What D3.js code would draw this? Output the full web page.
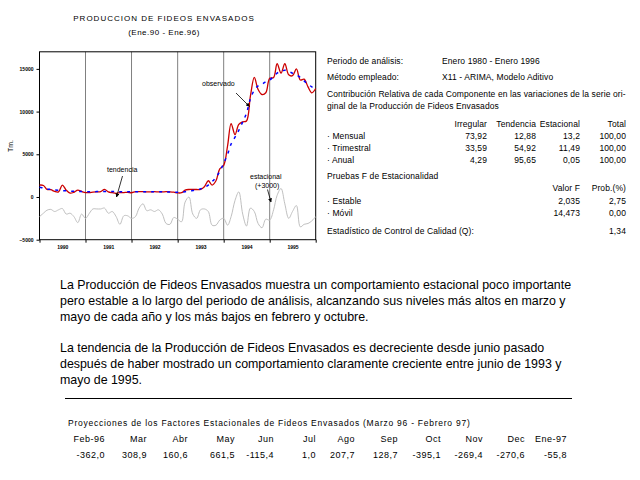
<!DOCTYPE html>
<html>
<head>
<meta charset="utf-8">
<title>Produccion de fideos envasados</title>
<script src="https://cdnjs.cloudflare.com/ajax/libs/d3/7.8.5/d3.min.js"></script>
<style>
  body { margin: 0; background: #fff; }
  svg { display: block; font-family: "Liberation Sans", Arial, sans-serif; }
  .eje text { font-size: 5px; font-weight: bold; }
  .eje path, .eje line { stroke: #000; }
  .panel { font-size: 8.5px; letter-spacing: 0.1px; }
  .parrafo { font-size: 12.4px; }
  .proy { font-size: 9px; letter-spacing: 0.5px; }
</style>
</head>
<body>
<div id="grafico"></div>
<script>
// serie mensual Ene.90 - Ene.96 (73 meses), en Tm.
var anioInicio = 1990;
var observado = [
  1400, 1350, 900, 850, 650, 600, 1400, 800, 450, 550, 800, 650,
  520, 520, 580, 600, 620, 900, 600, 500, 430, 520, 520, 550,
  500, 620, 620, 620, 600, 600, 620, 600, 600, 620, 600, 560,
  480, 500, 800, 880, 880, 880, 880, 1200, 1900, 1400, 1900, 3300,
  3700, 6000, 8600, 7300, 8500, 8800, 8900, 11800, 14000, 12600, 12000, 12200,
  13900, 14000, 15600, 14500, 15600, 14300, 14200, 15000, 13700, 13800, 12900, 12200,
  12700
];
var tendencia = [
  1150, 1050, 950, 880, 820, 780, 750, 720, 690, 660, 640, 630,
  620, 620, 620, 630, 640, 650, 650, 640, 630, 620, 610, 600,
  600, 600, 610, 620, 620, 620, 620, 610, 600, 590, 580, 570,
  550, 580, 620, 680, 750, 850, 950, 1100, 1400, 1800, 2300, 3000,
  3950, 5000, 6200, 7000, 7800, 8800, 9800, 11500, 12500, 13000, 13200, 13500,
  13700, 14100, 14500, 14700, 14850, 14700, 14500, 14300, 14000, 13600, 13200, 12900,
  12700
];
var estacional = [
  -2300, -1900, -1550, -1450, -1700, -1500, -1350, -2000, -1900, -2300, -3000, -2000,
  -2500, -1900, -1400, -1400, -1400, -1300, -1900, -1700, -2300, -3200, -2200, -2200,
  -2500, -2300, -1300, -800, -1600, -1500, -1700, -1500, -2000, -3100, -3200, -2400,
  -2600, -2900, -600, 0, -2000, -2500, -1500, -1400, -1700, -3300, -3300, -2700,
  -2500, -3300, -2300, -400, 600, -2000, -3400, -1300, -1700, -3100, -3600, -2600,
  -2700, -1500, 200, 1000, -800, -2500, -1700, -1000, -3500, -3200, -3100, -2800,
  -2300
];
var ticksY = [-5000, 0, 5000, 10000, 15000];
var anios = [1990, 1991, 1992, 1993, 1994, 1995];

// tabla de la derecha
var columnas = ["Irregular", "Tendencia", "Estacional", "Total"];
var filasContrib = ["· Mensual", "· Trimestral", "· Anual"];
var valoresContrib = [
  ["73,92", "12,88", "13,2", "100,00"],
  ["33,59", "54,92", "11,49", "100,00"],
  ["4,29", "95,65", "0,05", "100,00"]
];
var columnasF = ["Valor F", "Prob.(%)"];
var filasF = ["· Estable", "· Móvil"];
var valoresF = [["2,035", "2,75"], ["14,473", "0,00"]];

// proyecciones
var mesesProy = ["Feb-96", "Mar", "Abr", "May", "Jun", "Jul", "Ago", "Sep", "Oct", "Nov", "Dec", "Ene-97"];
var valoresProy = ["-362,0", "308,9", "160,6", "661,5", "-115,4", "1,0", "207,7", "128,7", "-395,1", "-269,4", "-270,6", "-55,8"];

var parrafo1 = [
  "La Producción de Fideos Envasados muestra un comportamiento estacional poco importante",
  "pero estable a lo largo del periodo de análisis, alcanzando sus niveles  más altos en marzo y",
  "mayo de cada año y los más bajos en febrero y octubre."
];
var parrafo2 = [
  "La tendencia de la Producción de Fideos Envasados es decreciente desde junio pasado",
  "después de haber mostrado un comportamiento claramente creciente entre junio de 1993 y",
  "mayo de 1995."
];

var fecha = function (i) { return new Date(anioInicio, i, 1); };

var svg = d3.select("#grafico").append("svg")
  .attr("width", 640).attr("height", 480);

var area = { izq: 39.5, der: 315.7, arriba: 51.8, abajo: 239.7 };

var x = d3.scaleTime()
  .domain([new Date(1990, 0, 1), new Date(1996, 0, 1)])
  .range([area.izq, area.der]);
var y = d3.scaleLinear()
  .domain([-5000, 17000])
  .range([area.abajo, area.arriba]);

// titulo
svg.append("text").attr("x", 164).attr("y", 21).attr("text-anchor", "middle")
  .style("font-size", "8px").style("letter-spacing", "1px")
  .text("PRODUCCION DE FIDEOS ENVASADOS");
svg.append("text").attr("x", 164).attr("y", 35).attr("text-anchor", "middle")
  .style("font-size", "8px").style("letter-spacing", "0.5px")
  .text("(Ene.90 - Ene.96)");

// lineas verticales de los anios
svg.append("g").selectAll("line")
  .data(anios.slice(1))
  .enter().append("line")
  .attr("x1", function (d) { return x(new Date(d, 0, 1)); })
  .attr("x2", function (d) { return x(new Date(d, 0, 1)); })
  .attr("y1", area.arriba).attr("y2", area.abajo)
  .attr("stroke", "#808080").attr("stroke-width", 1);

svg.append("rect")
  .attr("x", area.izq).attr("y", area.arriba)
  .attr("width", area.der - area.izq).attr("height", area.abajo - area.arriba)
  .attr("fill", "none").attr("stroke", "#000").attr("stroke-width", 1);

svg.append("g").attr("class", "eje")
  .attr("transform", "translate(" + area.izq + ",0)")
  .call(d3.axisLeft(y).tickValues(ticksY).tickSize(3).tickFormat(d3.format("d")))
  .call(function (g) { g.select(".domain").remove(); });

svg.append("g").attr("class", "eje")
  .attr("transform", "translate(0," + area.abajo + ")")
  .call(d3.axisBottom(x).tickValues(anios.concat([1996]).map(function (d) { return new Date(d, 0, 1); }))
    .tickSize(3).tickFormat(""))
  .call(function (g) { g.select(".domain").remove(); });

svg.append("g").attr("class", "eje")
  .attr("transform", "translate(0," + (area.abajo + 3) + ")")
  .call(d3.axisBottom(x).tickValues(anios.map(function (d) { return new Date(d, 6, 1); }))
    .tickSize(0).tickFormat(d3.timeFormat("%Y")))
  .call(function (g) { g.select(".domain").remove(); });

svg.append("text")
  .attr("transform", "translate(13,146) rotate(-90)")
  .attr("text-anchor", "middle").style("font-size", "7px")
  .text("Tm.");

var linea = function (serie) {
  return d3.line()
    .x(function (d, i) { return x(fecha(i)); })
    .y(function (d) { return y(d); })
    .curve(d3.curveCatmullRom.alpha(0.5))(serie);
};

svg.append("path").attr("d", linea(estacional))
  .attr("fill", "none").attr("stroke", "#c0c0c0").attr("stroke-width", 1);
svg.append("path").attr("d", linea(observado))
  .attr("fill", "none").attr("stroke", "#cc0000").attr("stroke-width", 1.3);
svg.append("path").attr("d", linea(tendencia))
  .attr("fill", "none").attr("stroke", "#0000ff").attr("stroke-width", 1.5)
  .attr("stroke-dasharray", "3,5");

// anotaciones
svg.append("defs").append("marker")
  .attr("id", "flecha").attr("viewBox", "0 0 10 10")
  .attr("refX", 9).attr("refY", 5)
  .attr("markerWidth", 5).attr("markerHeight", 5)
  .attr("orient", "auto")
  .append("path").attr("d", "M0,0L10,5L0,10z").attr("fill", "#000");

var notas = [
  { t: ["tendencia"], tx: 107, ty: 172, x1: 122.5, y1: 176, x2: 116.5, y2: 197 },
  { t: ["observado"], tx: 202, ty: 86, x1: 236, y1: 93, x2: 249.5, y2: 106.5 },
  { t: ["estacional", "(+3000)"], tx: 250, ty: 179, x1: 267.5, y1: 189.5, x2: 271, y2: 202 }
];
notas.forEach(function (n) {
  n.t.forEach(function (s, k) {
    svg.append("text").attr("x", n.tx + k * 5).attr("y", n.ty + k * 9)
      .style("font-size", "7px").text(s);
  });
  svg.append("line")
    .attr("x1", n.x1).attr("y1", n.y1).attr("x2", n.x2).attr("y2", n.y2)
    .attr("stroke", "#000").attr("stroke-width", 0.8)
    .attr("marker-end", "url(#flecha)");
});

// panel derecho
var p = svg.append("g").attr("class", "panel");
p.append("text").attr("x", 327).attr("y", 64).text("Periodo de análisis:");
p.append("text").attr("x", 442).attr("y", 64).text("Enero 1980 - Enero 1996");
p.append("text").attr("x", 327).attr("y", 80).text("Método empleado:");
p.append("text").attr("x", 442).attr("y", 80).text("X11 - ARIMA, Modelo Aditivo");
p.append("text").attr("x", 327).attr("y", 97).text("Contribución Relativa de cada Componente en las variaciones de la serie ori-");
p.append("text").attr("x", 327).attr("y", 109).text("ginal de la Producción de Fideos Envasados");

var colX = [487, 536, 580, 626];
columnas.forEach(function (c, j) {
  p.append("text").attr("x", colX[j]).attr("y", 127).attr("text-anchor", "end").text(c);
});
filasContrib.forEach(function (f, i) {
  var yy = 139 + i * 12;
  p.append("text").attr("x", 327).attr("y", yy).text(f);
  valoresContrib[i].forEach(function (v, j) {
    p.append("text").attr("x", colX[j]).attr("y", yy).attr("text-anchor", "end").text(v);
  });
});
p.append("text").attr("x", 327).attr("y", 179).text("Pruebas F de Estacionalidad");
columnasF.forEach(function (c, j) {
  p.append("text").attr("x", colX[j + 2]).attr("y", 191).attr("text-anchor", "end").text(c);
});
filasF.forEach(function (f, i) {
  var yy = 204 + i * 12;
  p.append("text").attr("x", 327).attr("y", yy).text(f);
  valoresF[i].forEach(function (v, j) {
    p.append("text").attr("x", colX[j + 2]).attr("y", yy).attr("text-anchor", "end").text(v);
  });
});
p.append("text").attr("x", 327).attr("y", 234).text("Estadístico de Control de Calidad (Q):");
p.append("text").attr("x", 626).attr("y", 234).attr("text-anchor", "end").text("1,34");

// comentarios
parrafo1.concat([""], parrafo2).forEach(function (s, i) {
  svg.append("text").attr("class", "parrafo")
    .attr("x", 60).attr("y", 289 + i * 15.8).text(s);
});

svg.append("line").attr("x1", 65).attr("x2", 572).attr("y1", 398.5).attr("y2", 398.5)
  .attr("stroke", "#000").attr("stroke-width", 1);

// proyecciones
svg.append("text").attr("x", 68).attr("y", 426)
  .style("font-size", "8.5px").style("letter-spacing", "0.75px")
  .text("Proyecciones de los Factores Estacionales de Fideos Envasados (Marzo 96 - Febrero 97)");
var proyX = [105, 147, 188, 235, 274, 316, 355, 398, 441, 483, 525, 567];
mesesProy.forEach(function (m, i) {
  svg.append("text").attr("class", "proy").attr("x", proyX[i]).attr("y", 442)
    .attr("text-anchor", "end").text(m);
  svg.append("text").attr("class", "proy").attr("x", proyX[i]).attr("y", 458)
    .attr("text-anchor", "end").text(valoresProy[i]);
});
</script>
</body>
</html>
